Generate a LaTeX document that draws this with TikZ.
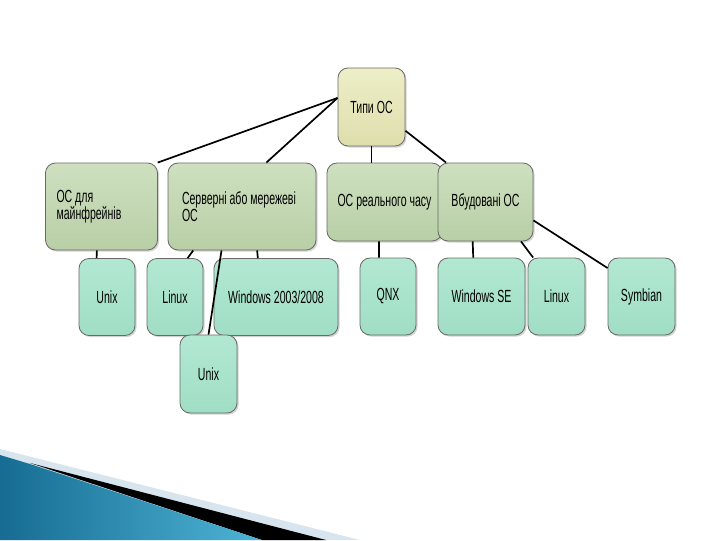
\documentclass[tikz,border=0pt]{standalone}
\usepackage{fontspec}
\setmainfont{Liberation Sans}[FakeStretch=0.6]
\usetikzlibrary{shadows}
\definecolor{TopYellow}{RGB}{238,238,200}
\definecolor{TopYellowDk}{RGB}{222,222,172}
\definecolor{SageGreen}{RGB}{206,224,192}
\definecolor{SageGreenDk}{RGB}{184,207,166}
\definecolor{MintGreen}{RGB}{178,232,210}
\definecolor{MintGreenDk}{RGB}{160,222,196}
\definecolor{BoxEdge}{RGB}{105,105,105}
\definecolor{DeepTeal}{RGB}{22,108,146}
\definecolor{SkyTeal}{RGB}{78,180,214}
\definecolor{PaleBand}{RGB}{216,229,238}

\begin{document}
\begin{tikzpicture}[
  x=0.5mm, y=-0.5mm,
  box/.style  = {rectangle, rounded corners=5mm, draw=BoxEdge, line width=1.2pt,
                 inner sep=1mm, font=\fontsize{25}{21}\selectfont,
                 drop shadow={shadow xshift=0.8mm, shadow yshift=-0.8mm, opacity=0.35}},
  root/.style = {box, top color=TopYellow, bottom color=TopYellowDk,
                 minimum width=33.5mm, minimum height=39mm},
  grp/.style  = {box, top color=SageGreen, bottom color=SageGreenDk,
                 minimum height=43.5mm},
  leaf/.style = {box, top color=MintGreen, bottom color=MintGreenDk,
                 minimum height=38.5mm},
  ln/.style   = {draw=black, line width=2.4pt},
]
\useasboundingbox (0,0) rectangle (720,540);

% corner decoration
\fill[PaleBand] (0,449) -- (360,540) -- (0,540) -- cycle;
\fill[black] (30,463) -- (326,540) -- (262,540) -- cycle;
\shade[left color=DeepTeal, right color=SkyTeal]
  (0,455) -- (30,464) -- (262,540) -- (0,540) -- cycle;

% nodes
\node[root] (typi) at (371.5,107) {Типи ОС};

\node[grp, minimum width=56mm, inner xsep=5.5mm, text width=45mm, align=flush left]
  (mf) at (101.5,206.5) {ОС для\\майнфрейнів};
\node[grp, minimum width=74mm, inner xsep=7mm, text width=60mm, align=flush left]
  (srv) at (242,206.5) {Серверні або мережеві\\ОС};
\node[grp, minimum width=57.5mm, minimum height=39mm] (rt) at (384.5,202) {ОС реального часу};
\node[grp, minimum width=47.5mm, minimum height=39mm] (vb) at (485.5,202) {Вбудовані ОС};

\node[leaf, minimum width=28mm]   (ux1) at (107,297)    {Unix};
\node[leaf, minimum width=28mm]   (lx1) at (175,297)    {Linux};
\node[leaf, minimum width=62mm]   (win) at (276,297)    {Windows 2003/2008};
\node[leaf, minimum width=28.5mm, minimum height=39mm] (ux2) at (208.5,374) {Unix};
\node[leaf, minimum width=28mm]   (qnx) at (388,296.5)  {QNX};
\node[leaf, minimum width=43.5mm] (wse) at (481.5,296.5){Windows SE};
\node[leaf, minimum width=28.5mm] (lx2) at (556.5,296.5){Linux};
\node[leaf, minimum width=33.5mm] (sym) at (641.5,296.5){Symbian};

% connectors
\draw[ln] (typi.165) -- (mf.38);
\draw[ln] (typi.165) -- (srv.61);
\draw[ln] (typi.south) -- (typi.south |- rt.north);
\draw[ln] (typi.-35) -- (vb.135);

\draw[ln] (mf.-96) -- (ux1.105);
\draw[ln] (srv.-138) -- (lx1.72);
\draw[ln] (srv.-115) -- (ux2.north);
\draw[ln] (srv.-71) -- (win.115);

\draw[ln] (rt.-98) -- (qnx.103);
\draw[ln] (vb.-108) -- (wse.102);
\draw[ln] (vb.-48) -- (lx2.121);
\draw[ln] (vb.-21) -- (sym.140);

\end{tikzpicture}
\end{document}
